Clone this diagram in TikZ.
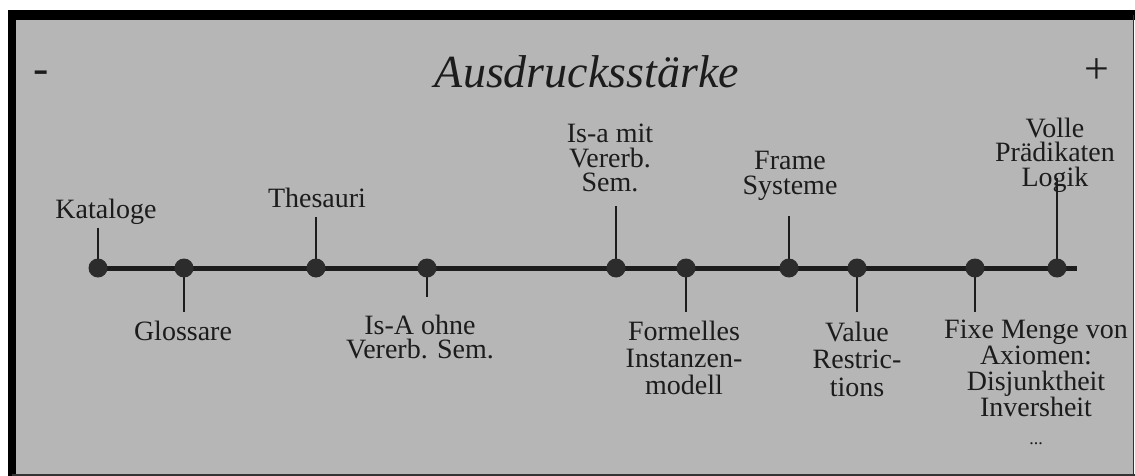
\documentclass[tikz,border=0pt]{standalone}
\usepackage{fontspec}
\setmainfont{Liberation Serif}
\definecolor{panel}{HTML}{B6B6B6}
\definecolor{ink}{HTML}{1C1C1C}
\definecolor{dotc}{HTML}{2C2C2C}
\pgfdeclarelayer{back}
\pgfsetlayers{back,main}
\begin{document}
\begin{tikzpicture}[x=1pt,y=-1pt,
  lbl/.style={font=\fontsize{28}{25}\selectfont, align=center, text=ink, inner sep=0pt},
  dotnode/.style={circle, fill=dotc, minimum size=19pt, inner sep=0pt},
  tickline/.style={line width=2.6pt, draw=ink},
  axisline/.style={line width=5pt, draw=ink}]
\useasboundingbox (0,0) rectangle (1135,476);

% points on the scale
\node[dotnode] (d1)  at (98,268)  {};
\node[dotnode] (d2)  at (184,268) {};
\node[dotnode] (d3)  at (316,268) {};
\node[dotnode] (d4)  at (427,268) {};
\node[dotnode] (d5)  at (616,268) {};
\node[dotnode] (d6)  at (686,268) {};
\node[dotnode] (d7)  at (789,268) {};
\node[dotnode] (d8)  at (857,268) {};
\node[dotnode] (d9)  at (975,268) {};
\node[dotnode] (d10) at (1057,268) {};
\coordinate (axisend) at (1077,268);

% tick ends
\coordinate (t1)  at (98,228);
\coordinate (t2)  at (184,312);
\coordinate (t3)  at (316,217);
\coordinate (t4)  at (427,297);
\coordinate (t5)  at (616,206);
\coordinate (t6)  at (686,312);
\coordinate (t7)  at (789,216);
\coordinate (t8)  at (857,312);
\coordinate (t9)  at (975,312);
\coordinate (t10) at (1057,178);

\begin{pgfonlayer}{back}
  % panel and frame
  \fill[white] (0,0) rectangle (1135,476);
  \fill[panel] (12,15) rectangle (1134,475);
  \fill[black] (8,10) rectangle (1135,20);
  \fill[black] (8,10) rectangle (16,476);
  \draw[line width=1.5pt, draw=black!80] (1133.5,15) -- (1133.5,476);
  \draw[line width=2pt, draw=black!80] (12,474.5) -- (1135,474.5);
  % scale and ticks
  \draw[axisline] (d1.center) -- (axisend);
  \foreach \i in {1,...,10} {\draw[tickline] (d\i.center) -- (t\i);}
\end{pgfonlayer}

% heading
\node[font=\fontsize{46}{46}\selectfont\itshape, text=ink, inner sep=0pt] (title) at (587,72) {Ausdrucksstärke};
\node[font=\fontsize{46}{46}\selectfont, text=ink, inner sep=0pt] (minus) at (41,77) {-};
\node[font=\fontsize{44}{44}\selectfont, text=ink, inner sep=0pt] (plus) at (1097,71) {+};

% labels above the scale
\node[lbl] (l1) at (106,212) {Kataloge};
\node[lbl] (l3) at (317,198) {Thesauri};
\node[lbl, font=\fontsize{28}{24.5}\selectfont] (l5) at (610,158) {Is-a mit\\Vererb.\\Sem.};
\node[lbl] (l7) at (790,176) {Frame\\Systeme};
\node[lbl, font=\fontsize{28}{24.5}\selectfont] (l10) at (1055,155) {Volle\\Prädikaten\\Logik};

% labels below the scale
\node[lbl] (l2) at (183,331) {Glossare};
\node[lbl, font=\fontsize{28}{23.5}\selectfont] (l4) at (420,337) {Is-A ohne\\Vererb. Sem.};
\node[lbl, font=\fontsize{28}{27}\selectfont] (l6) at (684,358) {Formelles\\Instanzen-\\modell};
\node[lbl, font=\fontsize{28}{27.5}\selectfont] (l8) at (857,359) {Value\\Restric-\\tions};
\node[lbl, font=\fontsize{28}{26}\selectfont] (l9) at (1036,382) {Fixe Menge von\\Axiomen:\\Disjunktheit\\Inversheit\\[2pt]{\fontsize{18}{18}\selectfont ...}};
\end{tikzpicture}
\end{document}
